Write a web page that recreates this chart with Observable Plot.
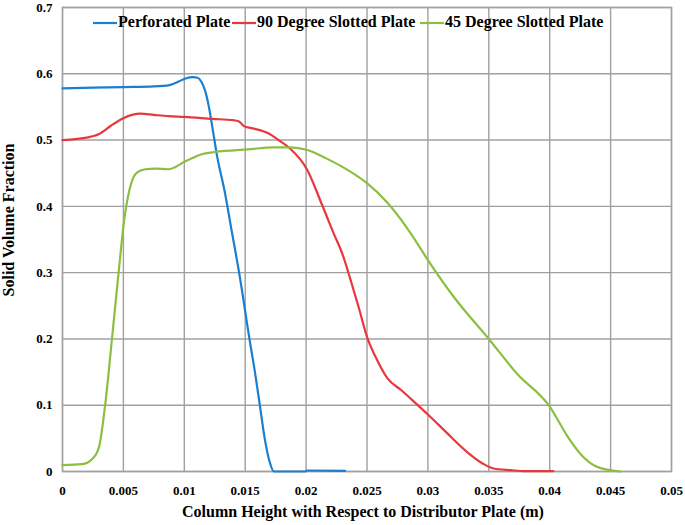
<!DOCTYPE html>
<html>
<head>
<meta charset="utf-8">
<script src="https://cdn.jsdelivr.net/npm/d3@7"></script>
<script src="https://cdn.jsdelivr.net/npm/@observablehq/plot@0.6"></script>
<style>
  html, body { margin: 0; padding: 0; background: #fff; }
  #chart svg { display: block; }
</style>
</head>
<body>
<div id="chart"></div>
<script>
// ---- Data ----
const seriesNames = ["Perforated Plate", "90 Degree Slotted Plate", "45 Degree Slotted Plate"];
const seriesColors = ["#1a7fd0", "#e8383d", "#8cbf3f"];

const perforatedX = [0, 0.0025, 0.005, 0.0075, 0.0088, 0.0095, 0.0101, 0.0107, 0.0111, 0.0114, 0.0117, 0.0120, 0.0123, 0.0127, 0.0133, 0.0139, 0.0145, 0.01535, 0.0158, 0.0162, 0.0166, 0.0170, 0.01735, 0.0199, 0.0201, 0.0232];
const perforatedY = [0.578, 0.579, 0.580, 0.581, 0.583, 0.588, 0.593, 0.595, 0.594, 0.588, 0.575, 0.552, 0.520, 0.475, 0.424, 0.362, 0.300, 0.200, 0.150, 0.100, 0.050, 0.015, 0.0, 0.0, 0.0015, 0.001];

const slotted90X = [0, 0.0021, 0.003, 0.004, 0.005, 0.0057, 0.0064, 0.0075, 0.0087, 0.010, 0.0123, 0.0140, 0.0145, 0.0149, 0.0155, 0.0162, 0.0168, 0.0179, 0.0187, 0.0201, 0.02125, 0.0222, 0.0231, 0.02365, 0.0243, 0.025, 0.0257, 0.0267, 0.0278, 0.029, 0.030, 0.0316, 0.0332, 0.0345, 0.0354, 0.0368, 0.038, 0.0403];
const slotted90Y = [0.500, 0.504, 0.509, 0.522, 0.533, 0.538, 0.540, 0.538, 0.536, 0.535, 0.532, 0.530, 0.528, 0.521, 0.518, 0.515, 0.511, 0.498, 0.487, 0.455, 0.405, 0.362, 0.322, 0.289, 0.249, 0.203, 0.173, 0.140, 0.123, 0.103, 0.086, 0.0575, 0.0297, 0.012, 0.0045, 0.002, 0.0005, 0.0005];

const slotted45X = [0, 0.0016, 0.0025, 0.003, 0.0035, 0.00405, 0.0046, 0.0051, 0.0055, 0.0058, 0.0062, 0.0068, 0.0076, 0.0087, 0.0101, 0.0115, 0.0125, 0.0137, 0.0152, 0.0173, 0.0187, 0.0201, 0.0217, 0.0234, 0.025, 0.0267, 0.0286, 0.030, 0.0321, 0.035, 0.0373, 0.040, 0.0415, 0.0426, 0.0439, 0.0458];
const slotted45Y = [0.0095, 0.011, 0.020, 0.037, 0.100, 0.198, 0.299, 0.384, 0.425, 0.443, 0.452, 0.456, 0.457, 0.456, 0.468, 0.479, 0.482, 0.484, 0.486, 0.489, 0.489, 0.485, 0.472, 0.455, 0.435, 0.405, 0.359, 0.319, 0.264, 0.200, 0.148, 0.098, 0.052, 0.025, 0.007, 0.0];

const xTicks = [0, 0.005, 0.01, 0.015, 0.02, 0.025, 0.03, 0.035, 0.04, 0.045, 0.05];
const yTicks = [0, 0.1, 0.2, 0.3, 0.4, 0.5, 0.6, 0.7];

const xTitle = "Column Height with Respect to Distributor Plate (m)";
const yTitle = "Solid Volume Fraction";

// ---- Build table ----
const seriesXs = [perforatedX, slotted90X, slotted45X];
const seriesYs = [perforatedY, slotted90Y, slotted45Y];
const rows = [];
seriesNames.forEach((name, i) => {
  seriesXs[i].forEach((x, j) => rows.push({series: name, x, y: seriesYs[i][j]}));
});

const fmt = d => String(+d.toFixed(4));
const gridColor = "#a0a0a0";
const font = "'Liberation Serif', 'Times New Roman', serif";

const chart = Plot.plot({
  width: 685,
  height: 525,
  marginLeft: 62,
  marginRight: 14,
  marginTop: 7,
  marginBottom: 54,
  style: {fontFamily: font, fontWeight: "bold", fontSize: "13px", color: "#000", background: "#fff"},
  x: {domain: [0, 0.05]},
  y: {domain: [0, 0.7]},
  color: {domain: seriesNames, range: seriesColors},
  marks: [
    Plot.gridX(xTicks, {stroke: gridColor, strokeOpacity: 1, strokeWidth: 1.4}),
    Plot.gridY(yTicks, {stroke: gridColor, strokeOpacity: 1, strokeWidth: 1.4}),
    Plot.frame({stroke: gridColor, strokeWidth: 1.4}),
    Plot.line(rows, {x: "x", y: "y", z: "series", stroke: "series", strokeWidth: 2.2, curve: "monotone-x"}),
    Plot.axisX(xTicks, {tickSize: 0, tickPadding: 14, tickFormat: fmt, label: null, fill: "#000"}),
    Plot.axisY(yTicks, {tickSize: 0, tickPadding: 10, tickFormat: fmt, label: null, fill: "#000"})
  ]
});

document.getElementById("chart").appendChild(chart);

// ---- Titles and legend (layout only) ----
const svg = d3.select(chart);
svg.append("text")
  .attr("x", 363).attr("y", 513)
  .attr("text-anchor", "middle").attr("dominant-baseline", "middle")
  .style("font-family", font).style("font-weight", "bold").style("font-size", "16px")
  .text(xTitle);
svg.append("text")
  .attr("transform", "translate(10,220) rotate(-90)")
  .attr("text-anchor", "middle").attr("dominant-baseline", "middle")
  .style("font-family", font).style("font-weight", "bold").style("font-size", "16px")
  .text(yTitle);

const legendPos = [93, 232, 420];
const leg = svg.append("g");
seriesNames.forEach((name, i) => {
  const x0 = legendPos[i];
  leg.append("line")
    .attr("x1", x0).attr("x2", x0 + 24).attr("y1", 23).attr("y2", 23)
    .attr("stroke", seriesColors[i]).attr("stroke-width", 2.2);
  leg.append("text")
    .attr("x", x0 + 25).attr("y", 23)
    .attr("text-anchor", "start")
    .attr("dominant-baseline", "middle")
    .style("font-family", font).style("font-weight", "bold").style("font-size", "16px")
    .text(name);
});
</script>
</body>
</html>
